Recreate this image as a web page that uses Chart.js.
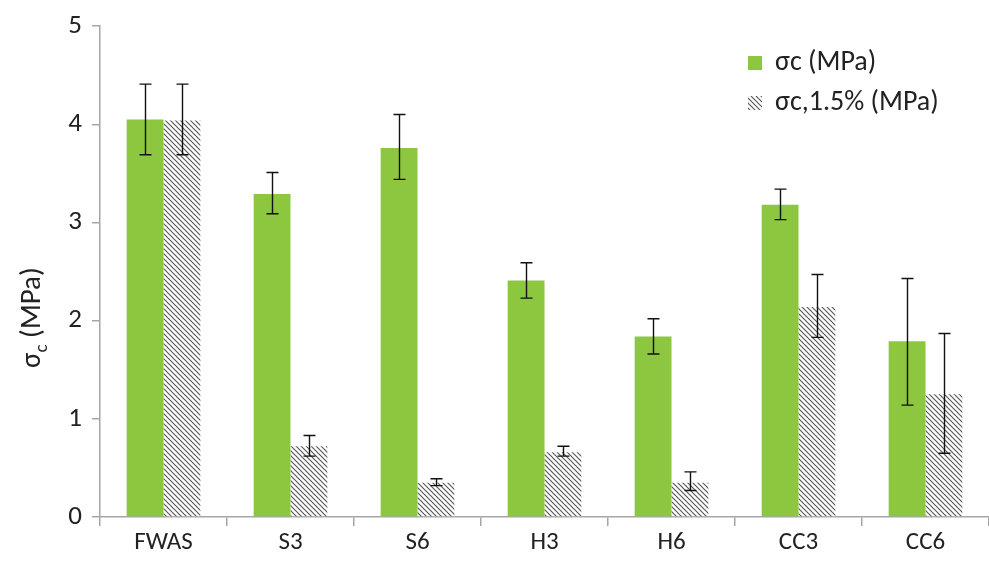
<!DOCTYPE html>
<html>
<head>
<meta charset="utf-8">
<script src="https://cdn.jsdelivr.net/npm/chart.js@4"></script>
<style>
  html, body { margin: 0; padding: 0; background: #fff; }
  #wrap { width: 989px; height: 569px; }
</style>
</head>
<body>
<div id="wrap"><canvas id="chart" width="989" height="569"></canvas></div>
<script>
// data
const labels = ['FWAS', 'S3', 'S6', 'H3', 'H6', 'CC3', 'CC6'];
const sigma = [4.05, 3.29, 3.76, 2.41, 1.84, 3.18, 1.79];
const sigmaLow = [3.69, 3.09, 3.44, 2.23, 1.66, 3.03, 1.14];
const sigmaHigh = [4.41, 3.51, 4.10, 2.59, 2.02, 3.34, 2.43];
const sigma15 = [4.04, 0.72, 0.35, 0.66, 0.35, 2.14, 1.25];
const sigma15Low = [3.69, 0.62, 0.32, 0.62, 0.27, 1.83, 0.65];
const sigma15High = [4.41, 0.83, 0.39, 0.72, 0.46, 2.47, 1.87];
const yTicks = [0, 1, 2, 3, 4, 5];

const FONT = 'Carlito, Calibri, Lato, "Open Sans", sans-serif';

// diagonal hatch like the excel pattern fill
function hatch() {
  const c = document.createElement('canvas');
  c.width = 5; c.height = 5;
  const g = c.getContext('2d');
  g.fillStyle = '#fff';
  g.fillRect(0, 0, 5, 5);
  g.strokeStyle = '#5a5a5a';
  g.lineWidth = 1.2;
  g.beginPath();
  g.moveTo(-1, -1); g.lineTo(6, 6);
  g.moveTo(-1, 4); g.lineTo(1, 6);
  g.moveTo(4, -1); g.lineTo(6, 1);
  g.stroke();
  return g.createPattern(c, 'repeat');
}
const hatchFill = hatch();

const errorBars = {
  id: 'errorBars',
  afterDatasetsDraw(chart) {
    const ctx = chart.ctx;
    const y = chart.scales.y;
    const errs = [[sigmaLow, sigmaHigh], [sigma15Low, sigma15High]];
    ctx.save();
    ctx.strokeStyle = '#111';
    ctx.lineWidth = 1.4;
    chart.data.datasets.forEach((ds, i) => {
      chart.getDatasetMeta(i).data.forEach((bar, j) => {
        const x = Math.round(bar.x) + 0.5;
        const top = y.getPixelForValue(errs[i][1][j]);
        const bot = y.getPixelForValue(errs[i][0][j]);
        ctx.beginPath();
        ctx.moveTo(x, top); ctx.lineTo(x, bot);
        ctx.moveTo(x - 6, top); ctx.lineTo(x + 6, top);
        ctx.moveTo(x - 6, bot); ctx.lineTo(x + 6, bot);
        ctx.stroke();
      });
    });
    ctx.restore();
  }
};

const extras = {
  id: 'extras',
  afterDraw(chart) {
    const ctx = chart.ctx;
    const area = chart.chartArea;
    ctx.save();
    // y axis title with subscript c
    ctx.translate(40, (area.top + area.bottom) / 2 + 46);
    ctx.rotate(-Math.PI / 2);
    ctx.fillStyle = '#222';
    ctx.textBaseline = 'alphabetic';
    ctx.font = '29px ' + FONT;
    const a = 'σ', b = 'c', c = ' (MPa)';
    const wa = ctx.measureText(a).width;
    ctx.font = '19px ' + FONT;
    const wb = ctx.measureText(b).width;
    ctx.font = '29px ' + FONT;
    const wc = ctx.measureText(c).width;
    let x0 = -(wa + wb + wc) / 2;
    ctx.fillText(a, x0, 0);
    ctx.font = '19px ' + FONT;
    ctx.fillText(b, x0 + wa, 7);
    ctx.font = '29px ' + FONT;
    ctx.fillText(c, x0 + wa + wb, 0);
    ctx.restore();

    // legend in the top right
    ctx.save();
    ctx.font = '28px ' + FONT;
    ctx.textBaseline = 'middle';
    chart.data.datasets.forEach((ds, i) => {
      const ly = 63 + i * 40;
      ctx.fillStyle = ds.backgroundColor;
      ctx.fillRect(748, ly - 7, 14, 14);
      ctx.fillStyle = '#222';
      ctx.fillText(ds.label, 775, ly);
    });
    ctx.restore();
  }
};

new Chart(document.getElementById('chart'), {
  type: 'bar',
  data: {
    labels: labels,
    datasets: [
      { label: 'σc (MPa)', data: sigma, backgroundColor: '#8dc63f', borderWidth: 0 },
      { label: 'σc,1.5% (MPa)', data: sigma15, backgroundColor: hatchFill, borderWidth: 0 }
    ]
  },
  options: {
    responsive: false,
    animation: false,
    layout: { padding: { top: 20, right: 0, left: 0, bottom: 0 } },
    datasets: { bar: { categoryPercentage: 0.58, barPercentage: 1.0 } },
    scales: {
      x: {
        afterFit: s => { s.height = 52; },
        border: { color: '#a6a6a6', width: 1.5 },
        grid: { drawOnChartArea: false, tickLength: 9, color: '#a6a6a6', lineWidth: 1.5 },
        ticks: { color: '#222', font: { family: FONT, size: 25 }, padding: 2 }
      },
      y: {
        min: 0,
        max: 5,
        afterFit: s => { s.width = 100; },
        afterBuildTicks: s => { s.ticks = yTicks.map(v => ({ value: v })); },
        border: { color: '#a6a6a6', width: 1.5 },
        grid: { drawOnChartArea: false, tickLength: 8, color: '#a6a6a6', lineWidth: 1.5 },
        ticks: { color: '#222', font: { family: FONT, size: 27 }, padding: 10 }
      }
    },
    plugins: {
      legend: { display: false },
      tooltip: { enabled: false }
    }
  },
  plugins: [errorBars, extras]
});
</script>
</body>
</html>
